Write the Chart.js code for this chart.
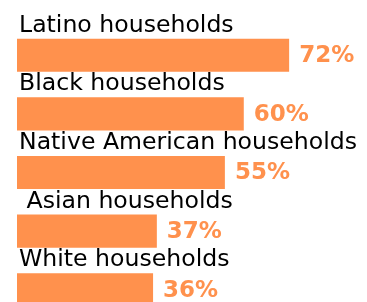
<!DOCTYPE html>
<html>
<head>
<meta charset="utf-8">
<script src="https://cdn.jsdelivr.net/npm/chart.js@4"></script>
<style>
  html, body { margin: 0; padding: 0; background: #fff; overflow: hidden; }
</style>
</head>
<body>
<canvas id="chart1" width="367" height="319"></canvas>
<script>
const categories = ['Latino households', 'Black households', 'Native American households', ' Asian households', 'White households'];
const values = [72, 60, 55, 37, 36];
const valueLabels = ['72%', '60%', '55%', '37%', '36%'];

const orange = '#ff914d';

// category name above each bar, value to the right
const barLabels = {
  id: 'barLabels',
  afterDatasetsDraw(chart) {
    const ctx = chart.ctx;
    const meta = chart.getDatasetMeta(0);
    ctx.save();
    meta.data.forEach((bar, i) => {
      const top = bar.y - bar.height / 2;
      ctx.fillStyle = '#000';
      ctx.font = '23.6px "DejaVu Sans"';
      ctx.textAlign = 'left';
      ctx.textBaseline = 'alphabetic';
      ctx.fillText(categories[i], bar.base + 2, top - 7);

      ctx.fillStyle = orange;
      ctx.font = 'bold 23px "DejaVu Sans"';
      ctx.textBaseline = 'middle';
      ctx.fillText(valueLabels[i], bar.x + 10, bar.y + 1);
    });
    ctx.restore();
  }
};

const ctx = document.getElementById('chart1').getContext('2d');
const myChart = new Chart(ctx, {
  type: 'bar',
  data: {
    labels: categories,
    datasets: [{
      data: values,
      backgroundColor: orange,
      borderWidth: 0,
      barPercentage: 0.564,
      categoryPercentage: 1
    }]
  },
  options: {
    indexAxis: 'y',
    responsive: false,
    animation: false,
    layout: { padding: { left: 17, top: 26, right: 0, bottom: 0 } },
    plugins: {
      legend: { display: false },
      tooltip: { enabled: false }
    },
    scales: {
      x: { display: false, min: 0, max: 92.6 },
      y: { display: false }
    }
  },
  plugins: [barLabels]
});
</script>
</body>
</html>
